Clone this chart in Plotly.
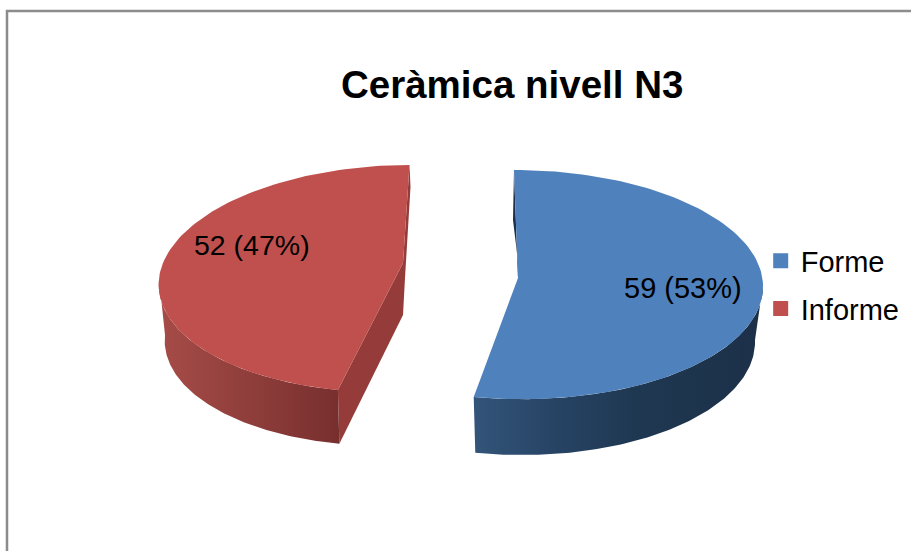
import numpy as np
import plotly.graph_objects as go

categories = ["Forme", "Informe"]
values = [59, 52]
title_text = "Ceràmica nivell N3"

top_colors = ["#4F81BD", "#C0504D"]
cut_colors = ["#1C3048", "#953C3A"]
wall_scales = [
    [[0, "#335579"], [0.25, "#284567"], [0.55, "#1F3852"], [1, "#1C3048"]],
    [[0, "#A64C48"], [0.5, "#8F3E3B"], [1, "#772F2E"]],
]

# Drawing geometry of the exploded, tilted pie (canvas pixels)
W, H = 911, 551
geom = [
    dict(apex=(518, 278), top=(518, 284.6, 245, 114.6), bot=(518, 340, 237, 115),
         shear=-0.035, wall=(90, None), depth=0),
    dict(apex=(403, 263), top=(397, 278.6, 238, 113.6), bot=(397, 335, 232, 111),
         shear=0.11, wall=(None, 270), depth=52),
]


def arc(e, shear, t0, t1, n=120):
    cx, cy, rx, ry = e
    t = np.radians(np.linspace(t0, t1, n))
    x = cx + rx * np.sin(t) + shear * ry * np.cos(t)
    y = cy - ry * np.cos(t)
    return x, y


total = sum(values)
edges = np.concatenate([[0], np.cumsum(values) / total * 360])
spans = [(edges[i], edges[i + 1]) for i in range(len(values))]

fig = go.Figure()


def poly(x, y, color=None, gradient=None):
    kw = dict(fillgradient=gradient) if gradient else dict(fillcolor=color)
    fig.add_trace(go.Scatter(x=x, y=y, mode="lines", fill="toself",
                             line=dict(width=0), hoverinfo="skip",
                             showlegend=False, **kw))


for i, g in enumerate(geom):
    a0, a1 = spans[i]
    w0 = g["wall"][0] if g["wall"][0] is not None else a0
    w1 = g["wall"][1] if g["wall"][1] is not None else a1
    tx, ty = arc(g["top"], g["shear"], w0, w1)
    bx, by = arc(g["bot"], g["shear"], w0, w1)
    ax, ay = g["apex"]
    if i == 1:
        ex, ey = arc(g["top"], g["shear"], a0, a0, 1)
        fx, fy = arc(g["bot"], g["shear"], a0, a0, 1)
        poly([ax, ax, fx[0], ex[0]], [ay, ay + g["depth"], fy[0], ey[0]], cut_colors[i])
        sx, sy = arc(g["top"], g["shear"], a1, a1, 1)
        poly([sx[0], sx[0] + 1, ax + 2, ax, ax], [sy[0], sy[0] + 22, ay + 15, ay + g["depth"], ay],
             cut_colors[i])
    else:
        sx, sy = arc(g["top"], g["shear"], a0, a0, 1)
        poly([sx[0], sx[0] - 1, ax + 2, ax], [sy[0], sy[0] + 50, ay, ay], cut_colors[i])
    poly(np.r_[tx, bx[::-1]], np.r_[ty, by[::-1]],
         gradient=dict(type="horizontal", colorscale=wall_scales[i]))
    x, y = arc(g["top"], g["shear"], a0, a1)
    poly(np.r_[ax, x, ax], np.r_[ay, y, ay], top_colors[i])

for i, name in enumerate(categories):
    fig.add_trace(go.Scatter(x=[None], y=[None], mode="markers", name=name,
                             legendgroup=name,
                             marker=dict(symbol="square", size=15, color=top_colors[i])))

label_pos = [(683, 288), (251.5, 245)]
label_size = [29, 28.5]
for i, v in enumerate(values):
    fig.add_annotation(x=label_pos[i][0], y=label_pos[i][1], showarrow=False,
                       text=f"{v} ({round(v / total * 100)}%)",
                       font=dict(size=label_size[i], color="#000000"))

fig.add_annotation(x=512, y=84, showarrow=False, text=f"<b>{title_text}</b>",
                   font=dict(size=38.5, color="#000000"))

fig.add_shape(type="path", path=f"M 7 {H} L 7 11 L {W} 11",
              line=dict(color="#8C8C8C", width=2.5), xref="x", yref="y")

fig.update_layout(
    width=W, height=H, margin=dict(l=0, r=0, t=0, b=0),
    paper_bgcolor="white", plot_bgcolor="white",
    font=dict(family="Liberation Sans, Arial, sans-serif"),
    xaxis=dict(range=[0, W], visible=False, fixedrange=True),
    yaxis=dict(range=[H, 0], visible=False, fixedrange=True),
    legend=dict(x=0.835, y=0.483, xanchor="left", yanchor="middle",
                font=dict(size=29, color="#000000"), tracegroupgap=7,
                bgcolor="rgba(0,0,0,0)", itemclick=False, itemdoubleclick=False),
)

fig.write_html("out.html", config=dict(displayModeBar=False),
               post_script="document.body.style.margin='0';")
